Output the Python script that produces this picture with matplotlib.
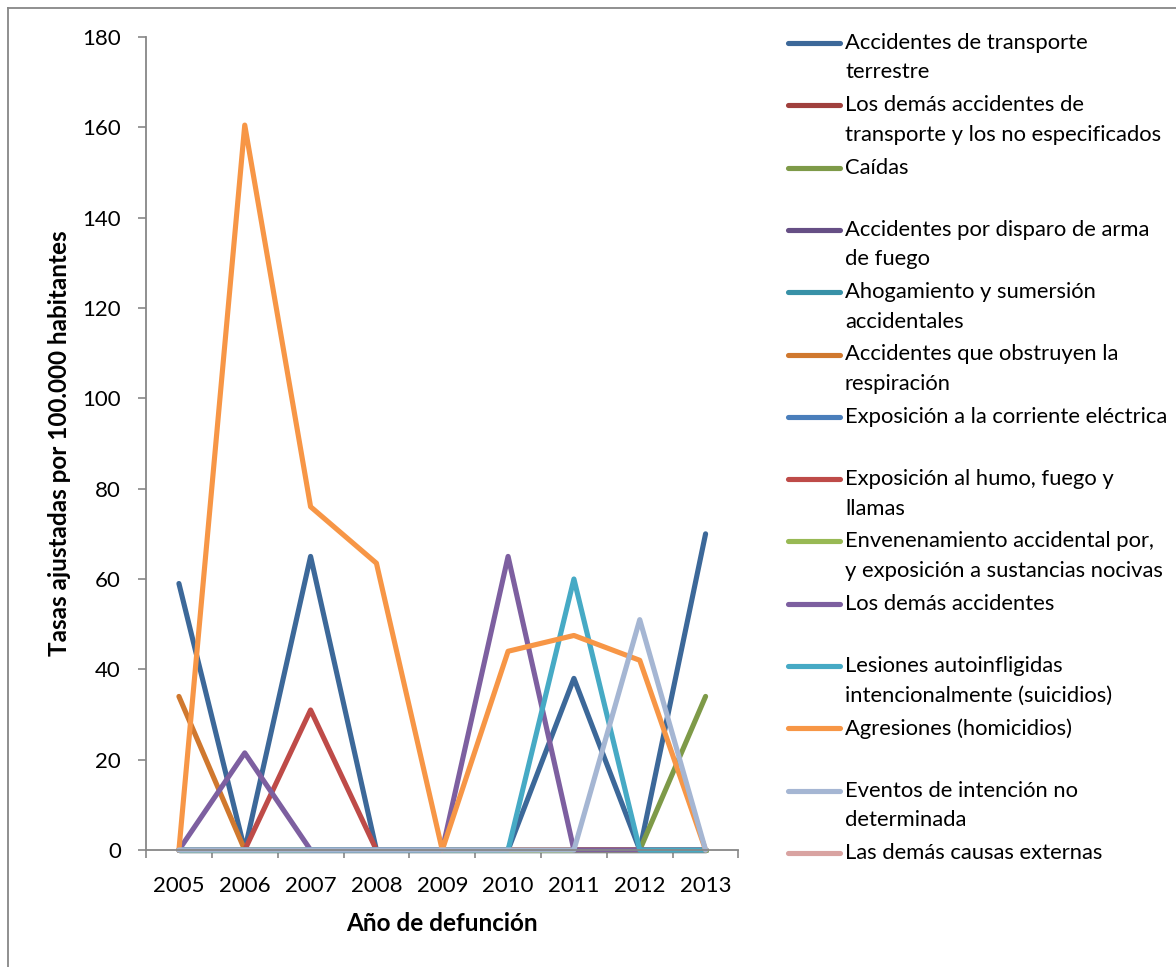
import numpy as np
import matplotlib
matplotlib.use("Agg")
import matplotlib.pyplot as plt
from matplotlib.lines import Line2D

plt.rcParams['font.family'] = ['Lato', 'DejaVu Sans']

years = ['2005', '2006', '2007', '2008', '2009', '2010', '2011', '2012', '2013']

nan = np.nan
series_names = [
    "Accidentes de transporte\nterrestre",
    "Los demás accidentes de\ntransporte y los no especificados",
    "Caídas",
    "Accidentes por disparo de arma\nde fuego",
    "Ahogamiento y sumersión\naccidentales",
    "Accidentes que obstruyen la\nrespiración",
    "Exposición a la corriente eléctrica",
    "Exposición al humo, fuego y\nllamas",
    "Envenenamiento accidental por,\ny exposición a sustancias nocivas",
    "Los demás accidentes",
    "Lesiones autoinfligidas\nintencionalmente (suicidios)",
    "Agresiones (homicidios)",
    "Eventos de intención no\ndeterminada",
    "Las demás causas externas",
]

transporte_terrestre = [59, 0, 65, 0, 0, 0, 38, 0, 70]
otros_transporte = [0, 0, 0, 0, 0, 0, 0, 0, 0]
caidas = [0, 0, 0, 0, 0, 0, 0, 0, 34]
disparo = [0, 0, 0, 0, 0, 0, 0, 0, 0]
ahogamiento = [0, 0, 0, 0, 0, 0, 0, 0, 0]
obstruyen = [34, 0, 0, 0, 0, 0, 0, 0, 0]
electrica = [0, 0, 0, 0, 0, 0, 0, 0, 0]
humo = [0, 0, 31, 0, 0, 0, 0, 0, 0]
envenenamiento = [0, 0, 0, 0, 0, 0, 0, 0, 0]
demas_accidentes = [0, 21.5, 0, 0, 0, 65, 0, 0, 0]
suicidios = [0, 0, 0, 0, 0, 0, 60, 0, 0]
homicidios = [0, 160.5, 76, 63.5, 0, 44, 47.5, 42, 0]
no_determinada = [0, 0, 0, 0, 0, 0, 0, 51, 0]
demas_causas = [nan, nan, nan, nan, nan, nan, nan, nan, nan]

values = [transporte_terrestre, otros_transporte, caidas, disparo, ahogamiento,
          obstruyen, electrica, humo, envenenamiento, demas_accidentes,
          suicidios, homicidios, no_determinada, demas_causas]

colors = ['#3C6899', '#A0403D', '#7E9A48', '#664F85', '#3891A7', '#D0782E',
          '#4A7EBB', '#BE4B48', '#98B954', '#7D5FA0', '#46AAC5', '#F79646',
          '#A5B6D3', '#D9A3A1']

W, H = 1176, 967
fig = plt.figure(figsize=(W / 100, H / 100), dpi=100)

# outer chart frame
frame_col = '#878787'
fig.add_artist(Line2D([8 / W, 8 / W], [1 - 8 / H, 0], transform=fig.transFigure,
                      color=frame_col, lw=1.3))
fig.add_artist(Line2D([8 / W, 1], [1 - 8 / H, 1 - 8 / H], transform=fig.transFigure,
                      color=frame_col, lw=1.3))

left, right, top, bottom = 146, 738.5, 37, 850
ax = fig.add_axes([left / W, 1 - bottom / H, (right - left) / W, (bottom - top) / H])

x = np.arange(len(years))
for vals, col in zip(values, colors):
    ax.plot(x, vals, color=col, lw=3.7, solid_capstyle='round',
            solid_joinstyle='round', clip_on=False)

ax.set_xlim(-0.5, len(years) - 0.5)
ax.set_ylim(0, 180)
ax.set_yticks(np.arange(0, 181, 20))
ax.set_xticks(x)
ax.set_xticklabels(years)
ax.set_xticks(np.arange(-0.5, len(years), 1), minor=True)
ax.tick_params(axis='x', which='major', length=0, pad=19, labelsize=16)
ax.tick_params(axis='x', which='minor', length=6, width=1.2, color=frame_col, direction='out')
ax.tick_params(axis='y', length=6, width=1.2, color=frame_col, direction='out',
               pad=12, labelsize=16)

for s in ['top', 'right']:
    ax.spines[s].set_visible(False)
for s in ['left', 'bottom']:
    ax.spines[s].set_color(frame_col)
    ax.spines[s].set_linewidth(1.3)

ax.set_xlabel("Año de defunción", fontsize=17.5, fontweight='bold', labelpad=11)
ax.set_ylabel("Tasas ajustadas por 100.000 habitantes", fontsize=17.5,
              fontweight='bold', labelpad=8)

# legend, one row per series
row0, step = 43, 62.3
for i, (name, col) in enumerate(zip(series_names, colors)):
    yy = row0 + i * step
    fig.add_artist(Line2D([788 / W, 840 / W], [1 - yy / H, 1 - yy / H],
                          transform=fig.transFigure, color=col, lw=3.7,
                          solid_capstyle='round'))
    for j, line in enumerate(name.split("\n")):
        fig.text(845 / W, 1 - (yy + j * 29.5) / H, line, fontsize=15.8,
                 va='center', ha='left', color='black')

fig.savefig("out.png", dpi=100)
